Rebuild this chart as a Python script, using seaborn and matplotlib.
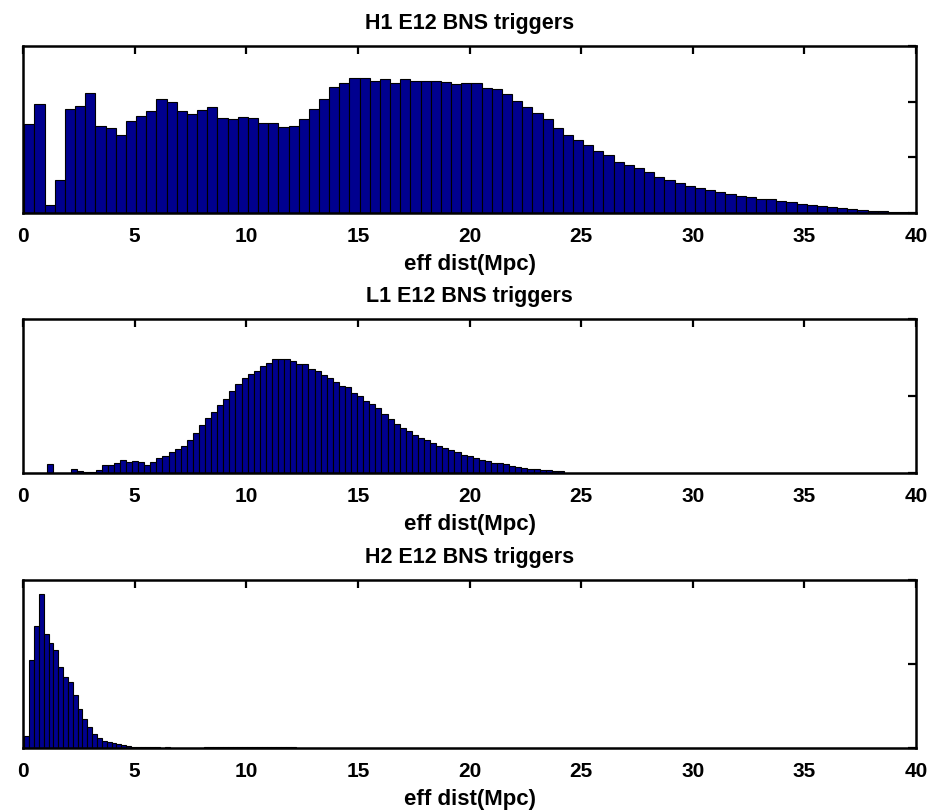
import numpy as np
import pandas as pd
import seaborn as sns
import matplotlib.pyplot as plt

# histogram bin layout (first edge, bin width) and bar heights
h1_start, h1_width = 0.06, 0.4551
h1_counts = [1.60, 1.95, 0.14, 0.59, 1.87, 1.92, 2.16, 1.56, 1.53, 1.40,
             1.65, 1.75, 1.83, 2.04, 1.99, 1.84, 1.78, 1.85, 1.90, 1.71,
             1.69, 1.73, 1.71, 1.62, 1.62, 1.54, 1.57, 1.68, 1.87, 2.04,
             2.26, 2.33, 2.43, 2.43, 2.38, 2.40, 2.33, 2.41, 2.38, 2.37,
             2.37, 2.35, 2.32, 2.33, 2.33, 2.25, 2.22, 2.14, 2.02, 1.90,
             1.80, 1.68, 1.53, 1.41, 1.31, 1.23, 1.11, 1.04, 0.92, 0.86,
             0.80, 0.74, 0.65, 0.59, 0.54, 0.49, 0.45, 0.41, 0.37, 0.35,
             0.31, 0.29, 0.26, 0.25, 0.22, 0.19, 0.16, 0.14, 0.13, 0.11,
             0.09, 0.07, 0.05, 0.04, 0.035, 0.02, 0.02]

l1_start, l1_width = 0.25, 0.2725
l1_counts = [0, 0, 0, 0.12, 0, 0, 0, 0.057, 0.026, 0.013, 0.013, 0.04,
             0.10, 0.11, 0.125, 0.175, 0.14, 0.16, 0.14, 0.11, 0.14, 0.19,
             0.215, 0.275, 0.315, 0.35, 0.43, 0.52, 0.62, 0.71, 0.79, 0.88,
             0.96, 1.06, 1.16, 1.24, 1.28, 1.33, 1.39, 1.43, 1.48, 1.48,
             1.48, 1.45, 1.42, 1.41, 1.35, 1.32, 1.27, 1.23, 1.18, 1.13,
             1.12, 1.04, 1.00, 0.94, 0.90, 0.84, 0.76, 0.70, 0.64, 0.58,
             0.55, 0.50, 0.46, 0.43, 0.39, 0.35, 0.33, 0.30, 0.27, 0.24,
             0.22, 0.19, 0.17, 0.155, 0.13, 0.13, 0.12, 0.09, 0.08, 0.066,
             0.05, 0.048, 0.035, 0.033, 0.026, 0.02]

h2_start, h2_width = 0.06, 0.217
h2_counts = [0.14, 1.05, 1.45, 1.83, 1.36, 1.25, 1.17, 0.97, 0.85, 0.78,
             0.63, 0.46, 0.34, 0.25, 0.17, 0.12, 0.085, 0.07, 0.057, 0.045,
             0.03, 0.025, 0.016, 0.012, 0.008, 0.008, 0.006, 0.007, 0.005, 0.006,
             0, 0, 0, 0, 0, 0, 0,
             0.010, 0.012, 0.011, 0.012, 0.010, 0.011, 0.012, 0.012, 0.011, 0.010,
             0.012, 0.011, 0.012, 0.010, 0.011, 0.012, 0.011, 0.010, 0.010,
             0.005, 0.004, 0.005, 0.004, 0.004]

titles = ['H1 E12 BNS triggers', 'L1 E12 BNS triggers', 'H2 E12 BNS triggers']
xlabel = 'eff dist(Mpc)'
xticks = [0, 5, 10, 15, 20, 25, 30, 35, 40]

sns.set_style('white')
plt.rcParams['font.family'] = ['Liberation Sans', 'DejaVu Sans']
plt.rcParams['text.color'] = 'black'
plt.rcParams['axes.labelcolor'] = 'black'
plt.rcParams['xtick.color'] = 'black'
plt.rcParams['ytick.color'] = 'black'

fig = plt.figure(figsize=(9.43, 8.11), dpi=100)

W, H = 943, 811
# axes boxes in pixels: (left, top, right, bottom)
boxes = [(23, 46, 916, 213), (23, 319, 916, 473), (23, 580, 916, 748)]
panels = [(h1_start, h1_width, h1_counts, 3),
          (l1_start, l1_width, l1_counts, 2),
          (h2_start, h2_width, h2_counts, 2)]

for (l, t, r, b), (start, width, counts, ytop), title in zip(boxes, panels, titles):
    ax = fig.add_axes([l / W, (H - b) / H, (r - l) / W, (b - t) / H])
    nbins = len(counts)
    stop = start + width * nbins
    centers = start + width * (np.arange(nbins) + 0.5)
    df = pd.DataFrame({'dist': centers, 'n': counts})
    sns.histplot(data=df, x='dist', weights='n', bins=nbins, binrange=(start, stop),
                 ax=ax, color='#00008F', edgecolor='black', linewidth=0.8, alpha=1)
    ax.set_xlim(0, 40)
    ax.set_ylim(0, ytop)
    ax.set_xticks(xticks)
    ax.set_xticklabels([str(v) for v in xticks], fontsize=15, fontweight='bold')
    ax.set_yticks(range(ytop + 1))
    ax.tick_params(direction='in', top=True, right=True, length=6, width=1.6,
                   labelleft=False, pad=10)
    ax.set_ylabel('')
    ax.set_xlabel(xlabel, fontsize=16, fontweight='bold', labelpad=6)
    ax.set_title(title, fontsize=15.5, fontweight='bold', pad=12)
    for s in ax.spines.values():
        s.set_linewidth(1.8)
        s.set_color('black')

fig.savefig('out.png', dpi=100)
